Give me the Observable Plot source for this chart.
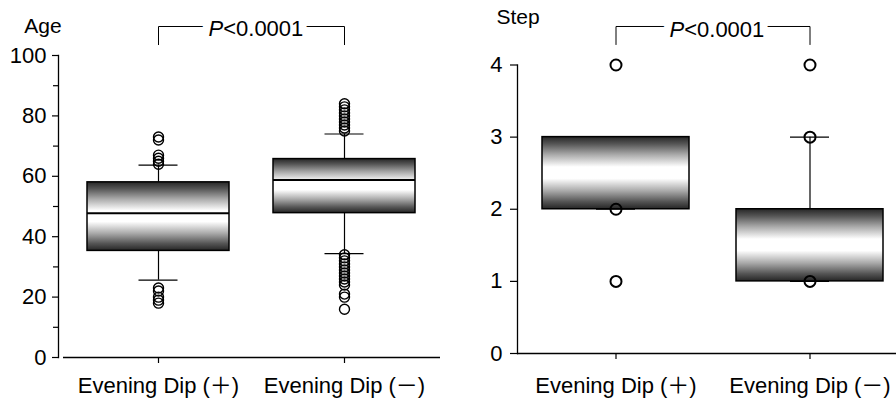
<!DOCTYPE html>
<html><head><meta charset="utf-8">
<script src="https://cdn.jsdelivr.net/npm/d3@7"></script>
<script src="https://cdn.jsdelivr.net/npm/@observablehq/plot@0.6"></script>
<style>
html,body{margin:0;padding:0;background:#fff;}
#wrap{position:relative;width:896px;height:398px;overflow:hidden;background:#fff;}
#wrap svg{position:absolute;top:0;}
</style></head><body><div id="wrap"></div>
<script>
// ---------- data ----------
const groups = ["Evening Dip (＋)", "Evening Dip (－)"];
const pLabel = "P<0.0001";

// Age panel
const ageTitle = "Age";
const ageQ1 = [35.3, 47.8];
const ageMedian = [47.8, 58.8];
const ageQ3 = [58.0, 65.7];
const ageWhiskerLow = [25.6, 34.4];
const ageWhiskerHigh = [63.7, 74.0];
const ageOutliersPlus = [73, 72, 67, 66, 65, 64, 23, 22, 20, 19, 18];
const ageOutliersMinus = [84, 83, 82, 81, 80, 79, 78, 77, 76, 75, 34, 33, 32, 31, 30, 29, 28, 27, 26, 25, 24, 21, 20, 16];
const ageTicks = [0, 20, 40, 60, 80, 100];
const ageMinorTicks = [10, 30, 50, 70, 90];
const ageBracket = [103.6, 109.6]; // drop end, top (data units)
const ageLabelY = 106.3;

// Step panel
const stepTitle = "Step";
const stepQ1 = [2, 1];
const stepMedian = [3, 2];
const stepQ3 = [3, 2];
const stepWhiskerLow = [2, 1];
const stepWhiskerHigh = [3, 3];
const stepOutliersPlus = [4, 2, 1];
const stepOutliersMinus = [4, 3, 1];
const stepTicks = [0, 1, 2, 3, 4];
const stepBracket = [4.284, 4.534];
const stepLabelY = 4.395;

// ---------- helpers ----------
const FONT = "'Liberation Sans', Arial, 'Noto Sans CJK JP', sans-serif";
const boxesOf = (q1, med, q3, lo, hi) => groups.map((g, i) => ({group: g, q1: q1[i], median: med[i], q3: q3[i], lo: lo[i], hi: hi[i]}));
const outliersOf = (a, b) => [...a.map(v => ({group: groups[0], value: v})), ...b.map(v => ({group: groups[1], value: v}))];
const bracketOf = (b) => [
  {group: groups[0], y: b[0]}, {group: groups[0], y: b[1]},
  {group: groups[1], y: b[1]}, {group: groups[1], y: b[0]}
];

function addGradient(svg, id) {
  const ns = "http://www.w3.org/2000/svg";
  const defs = document.createElementNS(ns, "defs");
  const lg = document.createElementNS(ns, "linearGradient");
  lg.setAttribute("id", id);
  lg.setAttribute("x1", "0"); lg.setAttribute("y1", "0");
  lg.setAttribute("x2", "0"); lg.setAttribute("y2", "1");
  [[0, "#262626"], [0.1, "#555"], [0.25, "#aaa"], [0.42, "#ffffff"], [0.58, "#ffffff"], [0.75, "#aaa"], [0.9, "#555"], [1, "#262626"]]
    .forEach(([o, c]) => {
      const s = document.createElementNS(ns, "stop");
      s.setAttribute("offset", o); s.setAttribute("stop-color", c);
      lg.appendChild(s);
    });
  defs.appendChild(lg);
  svg.insertBefore(defs, svg.firstChild);
}
function italicP(svg) {
  svg.querySelectorAll("text").forEach(t => {
    if (t.textContent === pLabel) {
      const target = t.querySelector("tspan") || t;
      target.textContent = "";
      const ns = "http://www.w3.org/2000/svg";
      const ts = document.createElementNS(ns, "tspan");
      ts.setAttribute("font-style", "italic");
      ts.textContent = "P";
      target.appendChild(ts);
      target.appendChild(document.createTextNode(pLabel.slice(1)));
    }
  });
}

function panel({boxes, outliers, bracket, labelY, labelDx, title, titleDx, titleDy, ticks, minorTicks, yDomain,
                marginLeft, marginRight, marginTop, marginBottom, paddingInner, paddingOuter, align,
                ruleInset, yTickSize, yTickPadding, xTickPadding, capInset, r, dotWidth, showMedian, gradId}) {
  const pText = [{group: groups[0], y: labelY, label: pLabel}];
  const marks = [
    Plot.frame({anchor: "left", stroke: "#000", strokeWidth: 1.3}),
    Plot.ruleY([0], {insetLeft: ruleInset, stroke: "#000", strokeWidth: 1.3}),
    Plot.axisY(ticks, {tickSize: yTickSize, tickPadding: yTickPadding, label: null, strokeWidth: 1.2, fontSize: 22, tickFormat: d3.format("d")}),
    Plot.axisX({tickSize: 6, tickPadding: xTickPadding, label: null, strokeWidth: 1.2, fontSize: 22}),
    Plot.ruleX(boxes, {x: "group", y1: "q3", y2: "hi", stroke: "#000", strokeWidth: 1.2}),
    Plot.ruleX(boxes, {x: "group", y1: "lo", y2: "q1", stroke: "#000", strokeWidth: 1.2}),
    Plot.tickY(boxes, {x: "group", y: "hi", insetLeft: capInset, insetRight: capInset, stroke: "#000", strokeWidth: 1.2}),
    Plot.tickY(boxes, {x: "group", y: "lo", insetLeft: capInset, insetRight: capInset, stroke: "#000", strokeWidth: 1.2}),
    Plot.barY(boxes, {x: "group", y1: "q1", y2: "q3", fill: `url(#${gradId})`, stroke: "#000", strokeWidth: 1.5}),
    Plot.dot(outliers, {x: "group", y: "value", r, stroke: "#000", strokeWidth: dotWidth, fill: "none"}),
    Plot.line(bracket, {x: "group", y: "y", stroke: "#000", strokeWidth: 1}),
    // white halo behind the label to break the bracket line
    Plot.text(pText, {x: "group", y: "y", text: "label", textAnchor: "start", lineAnchor: "bottom", dx: labelDx, fontSize: 22, fill: "#fff", stroke: "#fff", strokeWidth: 16}),
    Plot.text(pText, {x: "group", y: "y", text: "label", textAnchor: "start", lineAnchor: "bottom", dx: labelDx, fontSize: 22, fill: "#000"}),
    Plot.text([title], {frameAnchor: "top-left", dx: titleDx, dy: titleDy, textAnchor: "middle", lineAnchor: "bottom", fontSize: 21, fill: "#000"})
  ];
  if (minorTicks) marks.splice(3, 0, Plot.axisY(minorTicks, {tickSize: 5, tickFormat: () => "", label: null, strokeWidth: 1.2}));
  if (showMedian) marks.push(Plot.tickY(boxes, {x: "group", y: "median", stroke: "#000", strokeWidth: 2}));
  return Plot.plot({
    width: 448, height: 398,
    marginLeft, marginRight, marginTop, marginBottom,
    style: {fontFamily: FONT, fontSize: "22px", color: "#000", background: "transparent", overflow: "visible"},
    x: {type: "band", domain: groups, paddingInner, paddingOuter, align, label: null},
    y: {domain: yDomain, label: null},
    marks
  });
}

const left = panel({
  boxes: boxesOf(ageQ1, ageMedian, ageQ3, ageWhiskerLow, ageWhiskerHigh),
  outliers: outliersOf(ageOutliersPlus, ageOutliersMinus),
  bracket: bracketOf(ageBracket), labelY: ageLabelY, labelDx: 50,
  title: ageTitle, titleDx: -15.5, titleDy: -23,
  ticks: ageTicks, minorTicks: ageMinorTicks, yDomain: [0, 100],
  marginLeft: 58, marginRight: 8, marginTop: 55, marginBottom: 41,
  paddingInner: 0.235, paddingOuter: 0.139, align: 0.54,
  ruleInset: 5, yTickSize: 6, yTickPadding: 6, xTickPadding: 14,
  capInset: 51.5, r: 5, dotWidth: 1.4, showMedian: true, gradId: "gradAge"
});
const right = panel({
  boxes: boxesOf(stepQ1, stepMedian, stepQ3, stepWhiskerLow, stepWhiskerHigh),
  outliers: outliersOf(stepOutliersPlus, stepOutliersMinus),
  bracket: bracketOf(stepBracket), labelY: stepLabelY, labelDx: 53.5,
  title: stepTitle, titleDx: 0.5, titleDy: -41.5,
  ticks: stepTicks, minorTicks: null, yDomain: [0, 4],
  marginLeft: 69, marginRight: 0, marginTop: 64.5, marginBottom: 45,
  paddingInner: 0.241, paddingOuter: 0.0923, align: 0.667,
  ruleInset: 0, yTickSize: 7, yTickPadding: 8, xTickPadding: 18,
  capInset: 54, r: 5.5, dotWidth: 2, showMedian: false, gradId: "gradStep"
});
addGradient(left, "gradAge");
addGradient(right, "gradStep");
italicP(left); italicP(right);
left.style.left = "0px";
right.style.left = "448px";
document.getElementById("wrap").append(left, right);
</script>
</body></html>
